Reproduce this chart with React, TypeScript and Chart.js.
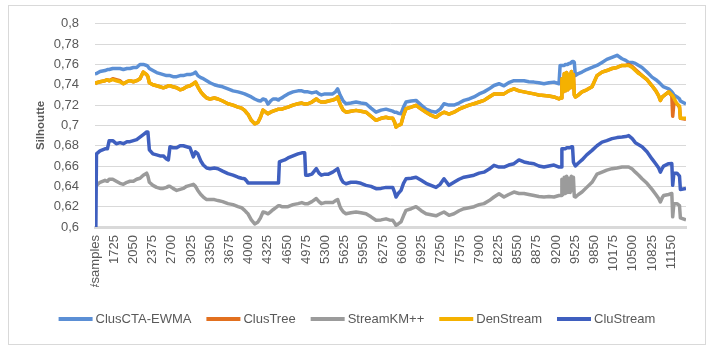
import React, { useEffect, useRef } from "react";
import { Chart, registerables } from "chart.js";

Chart.register(...registerables);

// Number of samples (x positions)
const samples = [
  1400, 1425, 1485, 1569, 1610, 1640, 1700, 1760, 1823, 1880,
  1940, 1992, 2050, 2105, 2161, 2217, 2274, 2295, 2320, 2380,
  2443, 2500, 2556, 2610, 2641, 2669, 2720, 2782, 2840, 2894,
  2950, 3008, 3064, 3100, 3140, 3190, 3233, 3290, 3346, 3420,
  3481, 3560, 3650, 3735, 3820, 3880, 3932, 3970, 3989, 4045,
  4102, 4158, 4200, 4243, 4290, 4327, 4370, 4412, 4460, 4505,
  4520, 4560, 4609, 4666, 4750, 4835, 4900, 4948, 4965, 5004,
  5070, 5145, 5190, 5230, 5290, 5350, 5422, 5470, 5506, 5540,
  5563, 5600, 5647, 5730, 5817, 5900, 5986, 6070, 6155, 6240,
  6324, 6380, 6437, 6470, 6493, 6530, 6578, 6620, 6663, 6750,
  6832, 6920, 7001, 7085, 7170, 7240, 7305, 7390, 7474, 7560,
  7643, 7730, 7813, 7900, 7982, 8070, 8151, 8236, 8320, 8400,
  8489, 8574, 8659, 8740, 8828, 8910, 8997, 9080, 9166, 9251,
  9270, 9290, 9300, 9320, 9340, 9360, 9380, 9400, 9420, 9440,
  9460, 9480, 9495, 9510, 9528, 9580, 9640, 9720, 9810, 9894,
  9979, 10060, 10148, 10233, 10317, 10380, 10430, 10490, 10543, 10600,
  10656, 10740, 10825, 10890, 10938, 10966, 11000, 11022, 11107, 11160,
  11175, 11195, 11247, 11290, 11305, 11400,
];

const clusCtaEwma = [
  0.7508, 0.751, 0.753, 0.754, 0.755, 0.755, 0.756, 0.756, 0.756, 0.755,
  0.756, 0.756, 0.757, 0.757, 0.76, 0.76, 0.759, 0.758, 0.756, 0.754,
  0.752, 0.751, 0.75, 0.749, 0.749, 0.749, 0.748, 0.748, 0.749, 0.749,
  0.75, 0.75, 0.751, 0.7525, 0.749, 0.747, 0.746, 0.744, 0.742, 0.74,
  0.739, 0.738, 0.736, 0.734, 0.733, 0.732, 0.731, 0.73, 0.7295, 0.728,
  0.726, 0.7245, 0.724, 0.726, 0.725, 0.721, 0.724, 0.726, 0.726, 0.725,
  0.726, 0.727, 0.729, 0.731, 0.733, 0.734, 0.734, 0.733, 0.733, 0.733,
  0.732, 0.733, 0.731, 0.73, 0.731, 0.731, 0.731, 0.733, 0.736, 0.731,
  0.728, 0.724, 0.7213, 0.722, 0.723, 0.722, 0.7213, 0.717, 0.713, 0.715,
  0.716, 0.715, 0.714, 0.713, 0.713, 0.712, 0.7115, 0.718, 0.723, 0.724,
  0.7246, 0.72, 0.716, 0.714, 0.713, 0.716, 0.7213, 0.72, 0.72, 0.722,
  0.7246, 0.726, 0.728, 0.731, 0.733, 0.736, 0.7393, 0.741, 0.739, 0.742,
  0.744, 0.744, 0.744, 0.743, 0.7426, 0.742, 0.741, 0.742, 0.7426, 0.741,
  0.759, 0.759, 0.759, 0.759, 0.759, 0.76, 0.76, 0.76, 0.761, 0.761,
  0.762, 0.763, 0.763, 0.762, 0.749, 0.751, 0.7525, 0.755, 0.757, 0.759,
  0.762, 0.765, 0.767, 0.769, 0.7656, 0.764, 0.762, 0.762, 0.761, 0.759,
  0.757, 0.7525, 0.7475, 0.745, 0.7426, 0.741, 0.739, 0.738, 0.736, 0.733,
  0.732, 0.73, 0.728, 0.726, 0.724, 0.721,
];

const clusTree = [
  0.741, 0.742, 0.743, 0.744, 0.745, 0.744, 0.746, 0.745, 0.744, 0.741,
  0.743, 0.744, 0.743, 0.744, 0.746, 0.7525, 0.75, 0.748, 0.742, 0.74,
  0.739, 0.738, 0.737, 0.738, 0.739, 0.739, 0.738, 0.737, 0.735, 0.736,
  0.738, 0.739, 0.741, 0.7426, 0.738, 0.733, 0.73, 0.727, 0.726, 0.727,
  0.726, 0.724, 0.7213, 0.72, 0.718, 0.717, 0.7148, 0.712, 0.711, 0.705,
  0.7016, 0.703, 0.708, 0.715, 0.713, 0.7115, 0.713, 0.714, 0.715, 0.716,
  0.716, 0.716, 0.717, 0.718, 0.72, 0.7213, 0.722, 0.721, 0.721, 0.7213,
  0.723, 0.726, 0.724, 0.723, 0.723, 0.724, 0.725, 0.726, 0.728, 0.722,
  0.719, 0.715, 0.713, 0.714, 0.7148, 0.714, 0.713, 0.709, 0.705, 0.707,
  0.708, 0.707, 0.707, 0.703, 0.6984, 0.7, 0.701, 0.71, 0.7164, 0.718,
  0.7197, 0.716, 0.713, 0.71, 0.708, 0.711, 0.713, 0.711, 0.713, 0.716,
  0.718, 0.72, 0.7213, 0.723, 0.7246, 0.728, 0.731, 0.731, 0.731, 0.734,
  0.736, 0.734, 0.733, 0.732, 0.731, 0.73, 0.7295, 0.729, 0.728, 0.726,
  0.727, 0.727, 0.746, 0.733, 0.751, 0.734, 0.752, 0.735, 0.75, 0.737,
  0.753, 0.738, 0.75, 0.73, 0.728, 0.73, 0.733, 0.735, 0.738, 0.749,
  0.7525, 0.754, 0.756, 0.757, 0.759, 0.759, 0.76, 0.758, 0.755, 0.752,
  0.749, 0.745, 0.739, 0.734, 0.729, 0.7245, 0.728, 0.729, 0.733, 0.729,
  0.709, 0.722, 0.7213, 0.718, 0.707, 0.706,
];

const streamKmPP = [
  0.641, 0.641, 0.644, 0.646, 0.645, 0.647, 0.647, 0.645, 0.643, 0.642,
  0.644, 0.645, 0.645, 0.647, 0.648, 0.651, 0.653, 0.65, 0.644, 0.641,
  0.639, 0.638, 0.638, 0.639, 0.64, 0.64, 0.638, 0.636, 0.637, 0.638,
  0.64, 0.641, 0.642, 0.64, 0.636, 0.632, 0.6295, 0.627, 0.627, 0.627,
  0.626, 0.625, 0.623, 0.622, 0.62, 0.619, 0.6164, 0.614, 0.613, 0.607,
  0.603, 0.605, 0.609, 0.6148, 0.614, 0.613, 0.615, 0.617, 0.619, 0.621,
  0.621, 0.62, 0.62, 0.62, 0.622, 0.623, 0.624, 0.623, 0.623, 0.623,
  0.625, 0.628, 0.625, 0.623, 0.624, 0.624, 0.624, 0.626, 0.627, 0.621,
  0.618, 0.615, 0.613, 0.614, 0.6148, 0.614, 0.613, 0.61, 0.6066, 0.607,
  0.608, 0.607, 0.6066, 0.604, 0.6016, 0.603, 0.605, 0.611, 0.6164, 0.618,
  0.62, 0.616, 0.613, 0.612, 0.611, 0.613, 0.6148, 0.6115, 0.613, 0.616,
  0.618, 0.619, 0.62, 0.622, 0.623, 0.626, 0.6295, 0.6328, 0.6295, 0.632,
  0.6344, 0.633, 0.633, 0.632, 0.631, 0.63, 0.6295, 0.63, 0.6295, 0.631,
  0.631, 0.631, 0.647, 0.632, 0.649, 0.633, 0.65, 0.634, 0.648, 0.634,
  0.65, 0.636, 0.649, 0.63, 0.6295, 0.632, 0.6344, 0.639, 0.644, 0.652,
  0.654, 0.656, 0.6574, 0.658, 0.659, 0.659, 0.659, 0.657, 0.654, 0.651,
  0.6475, 0.643, 0.637, 0.632, 0.628, 0.6246, 0.629, 0.631, 0.632, 0.633,
  0.61, 0.623, 0.623, 0.621, 0.609, 0.607,
];

const denStream = [
  0.741, 0.742, 0.743, 0.744, 0.745, 0.744, 0.745, 0.744, 0.743, 0.741,
  0.743, 0.744, 0.743, 0.744, 0.746, 0.7525, 0.75, 0.748, 0.742, 0.74,
  0.739, 0.738, 0.737, 0.738, 0.739, 0.739, 0.738, 0.737, 0.735, 0.736,
  0.738, 0.739, 0.741, 0.7426, 0.738, 0.733, 0.73, 0.727, 0.726, 0.727,
  0.726, 0.724, 0.7213, 0.72, 0.718, 0.717, 0.7148, 0.712, 0.711, 0.705,
  0.7016, 0.703, 0.708, 0.715, 0.713, 0.7115, 0.713, 0.714, 0.715, 0.716,
  0.716, 0.716, 0.717, 0.718, 0.72, 0.7213, 0.722, 0.721, 0.721, 0.7213,
  0.723, 0.726, 0.724, 0.723, 0.723, 0.724, 0.725, 0.726, 0.728, 0.722,
  0.719, 0.715, 0.713, 0.714, 0.7148, 0.714, 0.713, 0.709, 0.705, 0.707,
  0.708, 0.707, 0.707, 0.703, 0.6984, 0.7, 0.701, 0.71, 0.7164, 0.718,
  0.7197, 0.716, 0.713, 0.71, 0.708, 0.711, 0.713, 0.711, 0.713, 0.716,
  0.718, 0.72, 0.7213, 0.723, 0.7246, 0.728, 0.731, 0.731, 0.731, 0.734,
  0.736, 0.734, 0.733, 0.732, 0.731, 0.73, 0.7295, 0.729, 0.728, 0.726,
  0.727, 0.727, 0.746, 0.733, 0.751, 0.734, 0.752, 0.735, 0.75, 0.737,
  0.753, 0.738, 0.75, 0.73, 0.728, 0.73, 0.733, 0.735, 0.738, 0.749,
  0.7525, 0.754, 0.756, 0.757, 0.759, 0.759, 0.759, 0.757, 0.754, 0.751,
  0.749, 0.745, 0.739, 0.734, 0.729, 0.7245, 0.728, 0.729, 0.733, 0.73,
  0.729, 0.727, 0.7213, 0.719, 0.707, 0.707,
];

const cluStream = [
  0.5, 0.672, 0.675, 0.677, 0.677, 0.685, 0.685, 0.682, 0.683, 0.682,
  0.684, 0.684, 0.685, 0.686, 0.6885, 0.691, 0.6935, 0.6935, 0.676, 0.672,
  0.671, 0.67, 0.67, 0.667, 0.666, 0.679, 0.678, 0.678, 0.68, 0.68,
  0.679, 0.678, 0.669, 0.674, 0.672, 0.665, 0.661, 0.658, 0.6574, 0.658,
  0.6574, 0.655, 0.6525, 0.651, 0.649, 0.648, 0.6475, 0.645, 0.6433, 0.6433,
  0.6433, 0.6433, 0.6433, 0.6433, 0.6433, 0.6433, 0.6433, 0.6433, 0.6433, 0.6433,
  0.664, 0.665, 0.666, 0.668, 0.67, 0.672, 0.673, 0.673, 0.651, 0.651,
  0.652, 0.6574, 0.653, 0.651, 0.652, 0.652, 0.654, 0.656, 0.6574, 0.651,
  0.6475, 0.644, 0.6426, 0.644, 0.644, 0.643, 0.641, 0.64, 0.6377, 0.638,
  0.639, 0.639, 0.639, 0.634, 0.6295, 0.633, 0.636, 0.643, 0.6475, 0.648,
  0.649, 0.646, 0.643, 0.641, 0.639, 0.642, 0.6475, 0.641, 0.644, 0.647,
  0.649, 0.65, 0.651, 0.653, 0.654, 0.657, 0.6607, 0.659, 0.659, 0.661,
  0.6623, 0.666, 0.664, 0.663, 0.6623, 0.66, 0.659, 0.66, 0.661, 0.659,
  0.659, 0.659, 0.677, 0.677, 0.677, 0.677, 0.678, 0.678, 0.678, 0.678,
  0.679, 0.679, 0.664, 0.662, 0.66, 0.663, 0.666, 0.671, 0.6754, 0.68,
  0.6836, 0.685, 0.687, 0.688, 0.6885, 0.689, 0.69, 0.687, 0.683, 0.681,
  0.679, 0.674, 0.667, 0.662, 0.658, 0.654, 0.658, 0.66, 0.6623, 0.6625,
  0.641, 0.653, 0.653, 0.65, 0.637, 0.638,
];

const xTickValues = [
  1400, 1725, 2050, 2375, 2700, 3025, 3350, 3675, 4000, 4325, 4650,
  4975, 5300, 5625, 5950, 6275, 6600, 6925, 7250, 7575, 7900, 8225,
  8550, 8875, 9200, 9525, 9850, 10175, 10500, 10825, 11150,
];
const xTickLabels = [
  "#samples", "1725", "2050", "2375", "2700", "3025", "3350", "3675", "4000", "4325", "4650",
  "4975", "5300", "5625", "5950", "6275", "6600", "6925", "7250", "7575", "7900", "8225",
  "8550", "8875", "9200", "9525", "9850", "10175", "10500", "10825", "11150",
];
const seriesNames = ["ClusCTA-EWMA", "ClusTree", "StreamKM++", "DenStream", "CluStream"];
const yAxisTitle = "Silhoutte";

const FONT = "'Liberation Sans', Arial, sans-serif";
const TEXT = "#595959";
const GRID = "#d9d9d9";

const toPoints = (ys: number[]) => samples.map((x, i) => ({ x, y: ys[i] }));

const framePlugin = {
  id: "frame",
  beforeDraw(chart: any) {
    const ctx = chart.ctx;
    ctx.save();
    ctx.fillStyle = "#ffffff";
    ctx.fillRect(0, 0, chart.width, chart.height);
    ctx.strokeStyle = GRID;
    ctx.lineWidth = 1;
    ctx.strokeRect(8.5, 5.5, 697, 339);
    ctx.restore();
  },
};

const legendPlugin = {
  id: "lineLegend",
  afterDraw(chart: any) {
    const ctx = chart.ctx;
    const box = 34;
    const gap = 3;
    const itemGap = 15;
    const y = 319;
    ctx.save();
    ctx.font = `13px ${FONT}`;
    const widths = seriesNames.map((n) => ctx.measureText(n).width);
    const total =
      widths.reduce((a, b) => a + b, 0) +
      seriesNames.length * (box + gap) +
      (seriesNames.length - 1) * itemGap;
    let x = (chart.width - total) / 2;
    chart.data.datasets.forEach((ds: any, i: number) => {
      ctx.strokeStyle = ds.borderColor;
      ctx.lineWidth = 4;
      ctx.lineCap = "butt";
      ctx.beginPath();
      ctx.moveTo(x, y);
      ctx.lineTo(x + box, y);
      ctx.stroke();
      ctx.fillStyle = TEXT;
      ctx.textBaseline = "middle";
      ctx.textAlign = "left";
      ctx.fillText(seriesNames[i], x + box + gap, y + 0.5);
      x += box + gap + widths[i] + itemGap;
    });
    ctx.restore();
  },
};

export default function App() {
  const canvasRef = useRef<HTMLCanvasElement | null>(null);

  useEffect(() => {
    if (!canvasRef.current) return;
    const colors = ["#5b8fd5", "#e2701f", "#9b9b9b", "#f5b100", "#3f5fbf"];
    const values = [clusCtaEwma, clusTree, streamKmPP, denStream, cluStream];
    const orders = [5, 4, 3, 2, 1];
    const chart = new Chart(canvasRef.current, {
      type: "line",
      data: {
        datasets: values.map((ys, i) => ({
          label: seriesNames[i],
          data: toPoints(ys),
          borderColor: colors[i],
          backgroundColor: colors[i],
          borderWidth: 3.5,
          pointRadius: 0,
          tension: 0,
          borderJoinStyle: "round" as const,
          order: orders[i],
        })),
      },
      options: {
        animation: false,
        responsive: false,
        devicePixelRatio: 1,
        layout: { padding: { left: 30, right: 28, top: 23, bottom: 63 } },
        plugins: {
          legend: { display: false },
          tooltip: { enabled: false },
        },
        scales: {
          x: {
            type: "linear",
            min: 1400,
            max: 11400,
            afterBuildTicks: (scale: any) => {
              scale.ticks = xTickValues.map((v) => ({ value: v }));
            },
            afterFit: (scale: any) => {
              scale.height = 60;
            },
            grid: { display: false, drawTicks: false },
            border: { display: true, color: GRID, width: 3 },
            ticks: {
              autoSkip: false,
              minRotation: 90,
              maxRotation: 90,
              padding: 8,
              color: TEXT,
              font: { family: FONT, size: 13 },
              callback: (_v: any, i: number) => xTickLabels[i],
            },
          },
          y: {
            min: 0.6,
            max: 0.8,
            afterFit: (scale: any) => {
              scale.width = 65;
            },
            grid: { color: GRID, lineWidth: 1, drawTicks: false },
            border: { display: false },
            ticks: {
              stepSize: 0.02,
              padding: 16,
              color: TEXT,
              font: { family: FONT, size: 13 },
              callback: (v: any) => String(Math.round(Number(v) * 100) / 100).replace(".", ","),
            },
            title: {
              display: true,
              text: yAxisTitle,
              color: TEXT,
              font: { family: FONT, size: 11.5, weight: "bold" },
            },
          },
        },
      },
      plugins: [framePlugin, legendPlugin],
    });
    return () => chart.destroy();
  }, []);

  return (
    <div style={{ position: "fixed", left: 0, top: 0, width: 714, height: 350 }}>
      <canvas ref={canvasRef} width={714} height={350} style={{ display: "block", width: 714, height: 350 }} />
    </div>
  );
}
